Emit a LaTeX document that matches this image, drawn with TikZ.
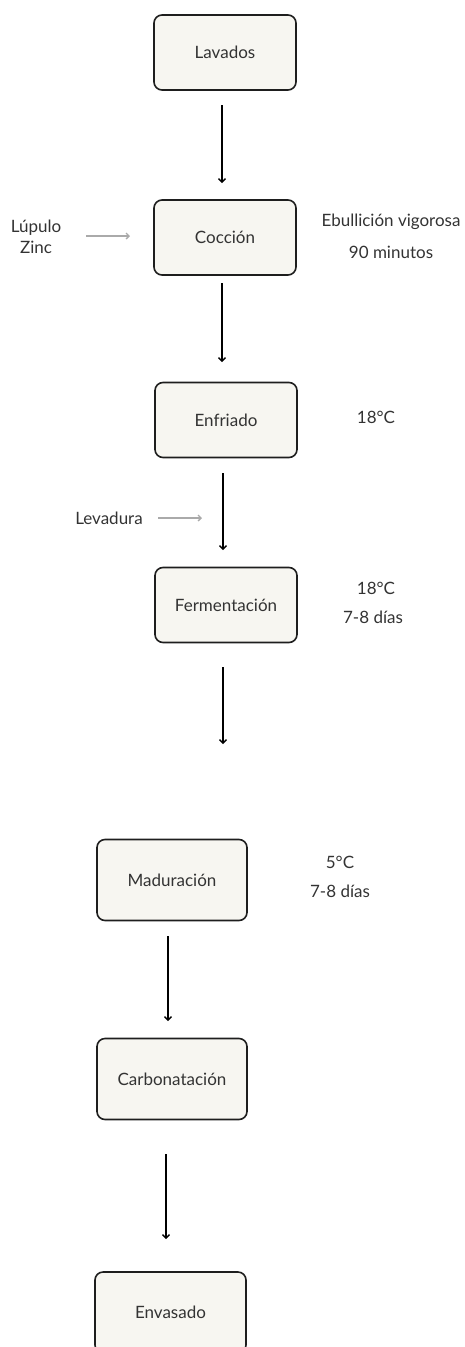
\documentclass[tikz,border=0pt]{standalone}
\usepackage{fontspec}
\setmainfont{Lato}
\usetikzlibrary{arrows.meta}
\definecolor{boxfill}{HTML}{F7F6F1}
\definecolor{boxline}{HTML}{1E1E1E}
\definecolor{txt}{HTML}{333333}
\definecolor{graya}{HTML}{AAAAAA}
\begin{document}
\begin{tikzpicture}[x=1pt,y=-1pt,
  stepbox/.style={draw=boxline,fill=boxfill,line width=1.6pt,rounded corners=8pt,
    minimum width=142pt,minimum height=75pt,inner sep=0pt,font=\fontsize{17}{20}\selectfont,text=txt},
  side/.style={font=\fontsize{17}{21}\selectfont,text=txt,align=center,inner sep=0pt},
  flow/.style={draw=black,line width=1.3pt,-{Straight Barb[length=3.5pt,width=7pt,line width=1.3pt]}},
  feed/.style={draw=graya,line width=1.3pt,-{Straight Barb[length=3pt,width=6pt,line width=1.3pt]}}]
\useasboundingbox (0,0) rectangle (464,1347);
\begin{scope}
\clip (0,0) rectangle (464,1347);
\node[stepbox] (lav) at (225,52.5) {Lavados};
\node[stepbox] (coc) at (225,237.5) {Cocción};
\node[stepbox] (enf) at (226,420) {Enfriado};
\node[stepbox] (fer) at (226,605) {Fermentación};
\node[stepbox,minimum width=150pt,minimum height=81pt] (mad) at (172,880) {Maduración};
\node[stepbox,minimum width=150pt,minimum height=81pt] (car) at (172,1079) {Carbonatación};
\node[stepbox,minimum width=151pt,minimum height=81pt] (env) at (170.5,1312.5) {Envasado};
\end{scope}
% flow arrows
\coordinate (a1s) at (222,105); \coordinate (a1e) at (222,183);
\draw[flow] (a1s) -- (a1e);
\coordinate (a2s) at (222,283); \coordinate (a2e) at (222,362);
\draw[flow] (a2s) -- (a2e);
\coordinate (a3s) at (223,473); \coordinate (a3e) at (223,550);
\draw[flow] (a3s) -- (a3e);
\coordinate (a4s) at (223,667); \coordinate (a4e) at (223,744);
\draw[flow] (a4s) -- (a4e);
\coordinate (a5s) at (168,936); \coordinate (a5e) at (168,1021);
\draw[flow] (a5s) -- (a5e);
\coordinate (a6s) at (166,1154); \coordinate (a6e) at (166,1239);
\draw[flow] (a6s) -- (a6e);
% inputs
\node[side] (lup) at (36,236.5) {Lúpulo\\Zinc};
\coordinate (g1s) at (86,236); \coordinate (g1e) at (130,236);
\draw[feed] (g1s) -- (g1e);
\node[side] (lev) at (109,518) {Levadura};
\coordinate (g2s) at (158,518); \coordinate (g2e) at (202,518);
\draw[feed] (g2s) -- (g2e);
% conditions
\node[side] (c1a) at (391,222) {Ebullición vigorosa};
\node[side] (c1b) at (391,252) {90 minutos};
\node[side] (c2) at (376,417) {18°C};
\node[side] (c3a) at (376,588) {18°C};
\node[side] (c3b) at (373,617) {7-8 días};
\node[side] (c4a) at (340,862) {5°C};
\node[side] (c4b) at (340,891) {7-8 días};
\end{tikzpicture}
\end{document}
